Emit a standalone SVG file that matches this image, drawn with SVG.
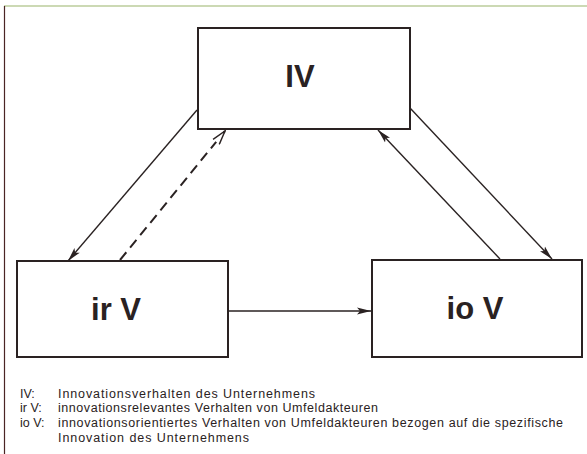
<svg xmlns="http://www.w3.org/2000/svg" width="587" height="454" viewBox="0 0 587 454">
<style>
.box{fill:#fff;stroke:#2a2222;stroke-width:2}
.big{font-family:"Liberation Sans",Arial,sans-serif;font-weight:bold;font-size:31px;fill:#2a2222;text-anchor:middle}
.leg{font-family:"Liberation Sans",Arial,sans-serif;font-size:12.5px;fill:#2a2222}
.con{stroke:#2a2222;stroke-width:1.4;fill:none}
.dash{stroke-dasharray:10 6;stroke-width:2}
</style>
<defs>
<marker id="ah" viewBox="0 0 14 8" refX="14" refY="4" markerWidth="14" markerHeight="8" markerUnits="userSpaceOnUse" orient="auto">
<path d="M0,0.5 L14,4 L0,7.5 L3,4 Z" fill="#2a2222"/>
</marker>
<marker id="ao" viewBox="0 0 16 10" refX="15" refY="5" markerWidth="16" markerHeight="10" markerUnits="userSpaceOnUse" orient="auto">
<path d="M1,1 L15,5 L1,9" fill="#fff" stroke="#2a2222" stroke-width="1.4"/>
</marker>
</defs>
<rect width="587" height="454" fill="#fff"/>
<line x1="4" y1="6" x2="587" y2="6" stroke="#9ab46a" stroke-width="1.2"/>
<line x1="4.5" y1="6" x2="4.5" y2="454" stroke="#4a2424" stroke-width="1.2"/>
<g id="connectors">
<line class="con" x1="197" y1="110" x2="68" y2="261" marker-end="url(#ah)"/>
<line class="con dash" x1="120" y1="260" x2="225" y2="131" marker-end="url(#ao)"/>
<line class="con" x1="410" y1="108" x2="552" y2="259" marker-end="url(#ah)"/>
<line class="con" x1="500" y1="259" x2="378" y2="130" marker-end="url(#ah)"/>
<line class="con" x1="228" y1="311" x2="371" y2="311" marker-end="url(#ah)"/>
</g>
<g id="IV">
<rect class="box" x="198" y="28" width="212" height="101"/>
<text class="big" x="300" y="87">IV</text>
</g>
<g id="irV">
<rect class="box" x="17" y="261" width="211" height="96"/>
<text class="big" x="116" y="320">ir V</text>
</g>
<g id="ioV">
<rect class="box" x="372" y="260" width="210" height="97"/>
<text class="big" x="475" y="319">io V</text>
</g>
<g id="legend">
<text class="leg" x="20" y="398">IV:</text>
<text class="leg" x="58" y="398" textLength="257" lengthAdjust="spacing">Innovationsverhalten des Unternehmens</text>
<text class="leg" x="20" y="412">ir V:</text>
<text class="leg" x="58" y="412" textLength="320" lengthAdjust="spacing">innovationsrelevantes Verhalten von Umfeldakteuren</text>
<text class="leg" x="20" y="427">io V:</text>
<text class="leg" x="58" y="427" textLength="505" lengthAdjust="spacing">innovationsorientiertes Verhalten von Umfeldakteuren bezogen auf die spezifische</text>
<text class="leg" x="58" y="442" textLength="191" lengthAdjust="spacing">Innovation des Unternehmens</text>
</g>
</svg>
